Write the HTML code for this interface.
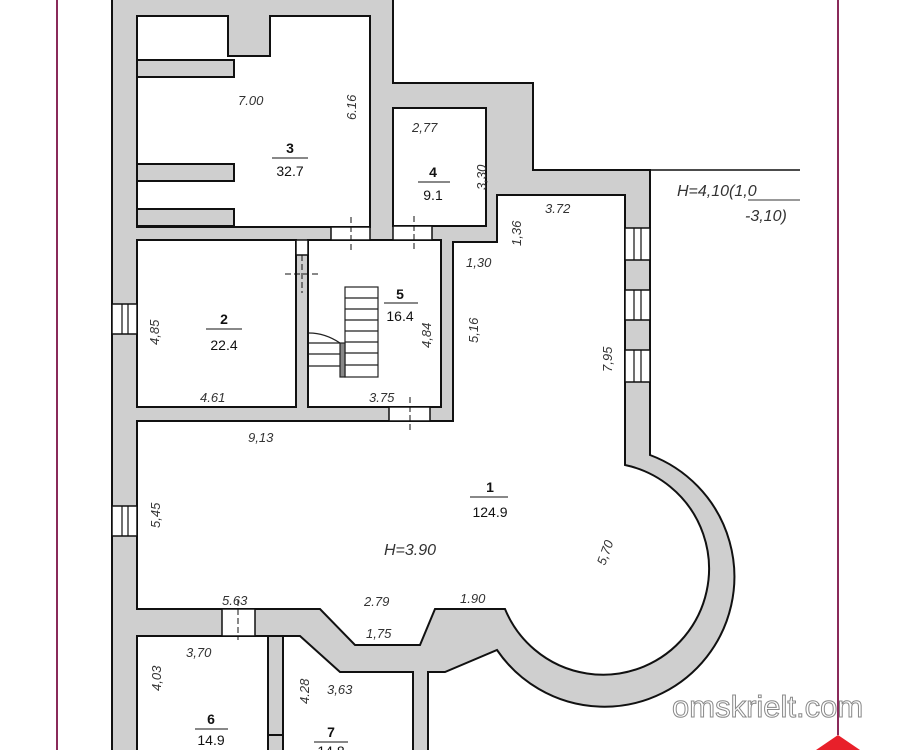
<!DOCTYPE html>
<html><head><meta charset="utf-8"><style>
html,body{margin:0;padding:0;background:#fff;}
svg{display:block;}
.d{font-family:"Liberation Sans",sans-serif;font-style:italic;font-size:13px;fill:#333;}
.n{font-family:"Liberation Sans",sans-serif;font-size:14px;fill:#111;text-anchor:middle;}
.b{font-weight:bold;}
</style></head><body>
<svg width="916" height="750" viewBox="0 0 916 750" xmlns="http://www.w3.org/2000/svg">
<rect width="916" height="750" fill="#fff"/>
<path d="M112,-5 L393,-5 L393,83 L533,83 L533,170 L650,170 L650,455 A130,130 0 1 1 497,650 L445,672 L428,672 L428,755 L112,755 Z" fill="#cfcfcf" stroke="#111" stroke-width="2"/>
<line x1="650" y1="170" x2="800" y2="170" stroke="#111" stroke-width="1.5"/>
<g fill="#fff" stroke="#111" stroke-width="2">
<path d="M137,16 L228,16 L228,56 L270,56 L270,16 L370,16 L370,227 L137,227 Z"/>
<rect x="393" y="108" width="93" height="118"/>
<rect x="137" y="240" width="159" height="167"/>
<rect x="308" y="240" width="133" height="167"/>
<path d="M137,421 L453,421 L453,242 L497,242 L497,195 L625,195 L625,465 A106,106 0 1 1 505,609 L435,609 L420,645 L355,645 L320,609 L137,609 Z"/>
<rect x="137" y="636" width="131" height="120"/>
<path d="M283,636 L300,636 L340,672 L413,672 L413,756 L283,756 Z"/>
</g>
<rect x="268" y="636" width="15" height="99" fill="#cfcfcf" stroke="#111" stroke-width="2"/>
<g fill="#cfcfcf" stroke="#111" stroke-width="2">
<rect x="137" y="60" width="97" height="17"/>
<rect x="137" y="164" width="97" height="17"/>
<rect x="137" y="209" width="97" height="17"/>
</g>
<g fill="#fff" stroke="#111" stroke-width="1.5">
<rect x="331" y="227" width="39" height="13"/>
<rect x="393" y="226" width="39" height="14"/>
<rect x="296" y="240" width="12" height="15"/>
<rect x="389" y="407" width="41" height="14"/>
<rect x="222" y="609" width="33" height="27"/>
</g>
<g stroke="#111" stroke-width="1" stroke-dasharray="6,3">
<line x1="351" y1="217" x2="351" y2="250"/>
<line x1="414" y1="216" x2="414" y2="250"/>
<line x1="285" y1="274" x2="320" y2="274"/>
<line x1="302" y1="255" x2="302" y2="293"/>
<line x1="410" y1="397" x2="410" y2="430"/>
<line x1="238" y1="600" x2="238" y2="640"/>
</g>
<g fill="#fff" stroke="#111" stroke-width="1.5">
<rect x="112" y="304" width="25" height="30"/>
<rect x="112" y="506" width="25" height="30"/>
<rect x="625" y="228" width="25" height="32"/>
<rect x="625" y="290" width="25" height="30"/>
<rect x="625" y="350" width="25" height="32"/>
</g>
<g stroke="#111" stroke-width="1.2">
<line x1="122" y1="304" x2="122" y2="334"/><line x1="128" y1="304" x2="128" y2="334"/>
<line x1="122" y1="506" x2="122" y2="536"/><line x1="128" y1="506" x2="128" y2="536"/>
<line x1="634" y1="228" x2="634" y2="260"/><line x1="641" y1="228" x2="641" y2="260"/>
<line x1="634" y1="290" x2="634" y2="320"/><line x1="641" y1="290" x2="641" y2="320"/>
<line x1="634" y1="350" x2="634" y2="382"/><line x1="641" y1="350" x2="641" y2="382"/>
</g>
<g fill="none" stroke="#222" stroke-width="1.2">
<rect x="345" y="287" width="33" height="90"/>
<line x1="345" y1="298" x2="378" y2="298"/><line x1="345" y1="309" x2="378" y2="309"/>
<line x1="345" y1="320" x2="378" y2="320"/><line x1="345" y1="331" x2="378" y2="331"/>
<line x1="345" y1="342" x2="378" y2="342"/><line x1="345" y1="353" x2="378" y2="353"/>
<line x1="345" y1="365" x2="378" y2="365"/>
<line x1="309" y1="343" x2="340" y2="343"/><line x1="309" y1="354" x2="340" y2="354"/>
<line x1="309" y1="366" x2="340" y2="366"/>
<path d="M309,333 Q325,333 340,343"/>
<rect x="340" y="343" width="5" height="34" fill="#888"/>
</g>
<line x1="57" y1="0" x2="57" y2="750" stroke="#8a2a5a" stroke-width="2"/>
<line x1="838" y1="0" x2="838" y2="735" stroke="#8a2a5a" stroke-width="2"/>
<polygon points="838,735 860,750 816,750" fill="#e8202a"/>
<g class="n">
<text x="290" y="153" class="b">3</text><line x1="272" y1="158" x2="308" y2="158" stroke="#111"/><text x="290" y="176">32.7</text>
<text x="433" y="177" class="b">4</text><line x1="418" y1="182" x2="450" y2="182" stroke="#111"/><text x="433" y="200">9.1</text>
<text x="400" y="299" class="b">5</text><line x1="384" y1="303" x2="418" y2="303" stroke="#111"/><text x="400" y="321">16.4</text>
<text x="224" y="324" class="b">2</text><line x1="206" y1="329" x2="242" y2="329" stroke="#111"/><text x="224" y="350">22.4</text>
<text x="490" y="492" class="b">1</text><line x1="470" y1="497" x2="508" y2="497" stroke="#111"/><text x="490" y="517">124.9</text>
<text x="211" y="724" class="b">6</text><line x1="195" y1="729" x2="228" y2="729" stroke="#111"/><text x="211" y="745">14.9</text>
<text x="331" y="737" class="b">7</text><line x1="314" y1="742" x2="348" y2="742" stroke="#111"/><text x="331" y="756">14.8</text>
</g>
<g class="d">
<text x="238" y="105">7.00</text>
<text x="412" y="132">2,77</text>
<text x="369" y="402">3.75</text>
<text x="200" y="402">4.61</text>
<text x="545" y="213">3.72</text>
<text x="466" y="267">1,30</text>
<text x="248" y="442">9,13</text>
<text x="384" y="555" style="font-size:16px">H=3.90</text>
<text x="364" y="606">2.79</text>
<text x="460" y="603">1.90</text>
<text x="366" y="638">1,75</text>
<text x="222" y="605">5.63</text>
<text x="186" y="657">3,70</text>
<text x="327" y="694">3,63</text>
<text x="677" y="196" style="font-size:16px">H=4,10(1,0</text>
<line x1="748" y1="200" x2="800" y2="200" stroke="#333"/>
<text x="745" y="221" style="font-size:16px">-3,10)</text>
<text transform="translate(356,120) rotate(-90)">6.16</text>
<text transform="translate(486,190) rotate(-90)">3,30</text>
<text transform="translate(521,246) rotate(-90)">1,36</text>
<text transform="translate(159,345) rotate(-90)">4,85</text>
<text transform="translate(431,348) rotate(-90)">4,84</text>
<text transform="translate(478,343) rotate(-90)">5,16</text>
<text transform="translate(612,372) rotate(-90)">7,95</text>
<text transform="translate(160,528) rotate(-90)">5,45</text>
<text transform="translate(605,566) rotate(-70)">5,70</text>
<text transform="translate(161,691) rotate(-90)">4,03</text>
<text transform="translate(309,704) rotate(-90)">4.28</text>
</g>
<text x="672" y="717" style="font-family:'Liberation Sans',sans-serif;font-size:31px;fill:#fff;stroke:#888;stroke-width:1;">omskrielt.com</text>
</svg>
</body></html>
